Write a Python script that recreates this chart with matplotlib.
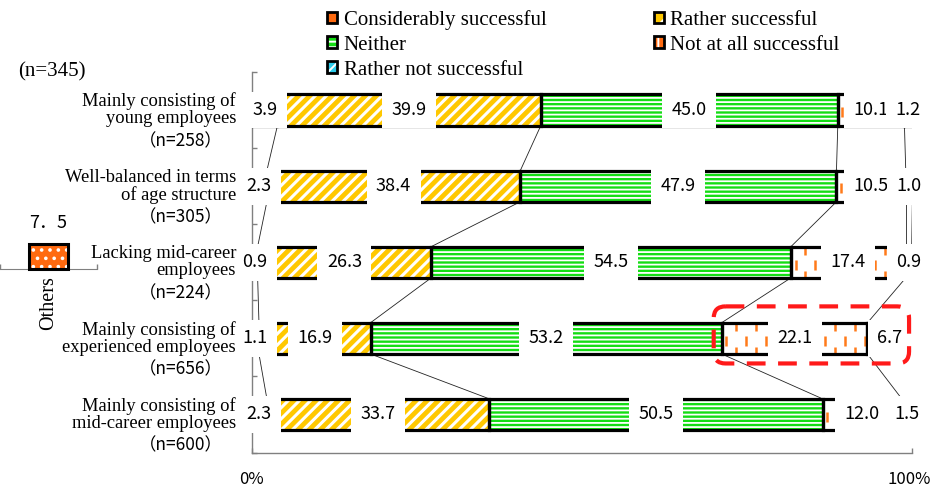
import numpy as np
import matplotlib
matplotlib.use('Agg')
import matplotlib.pyplot as plt
from matplotlib.patches import Patch, FancyBboxPatch
from matplotlib.transforms import ScaledTranslation

plt.rcParams['hatch.linewidth'] = 1.4

GOTICA = ['Noto Sans CJK JP', 'DejaVu Sans']
SERIF = ['Liberation Serif', 'DejaVu Serif']

# Datos (%)
grupos = ['Mainly consisting of\nyoung employees',
          'Well-balanced in terms\nof age structure',
          'Lacking mid-career\nemployees',
          'Mainly consisting of\nexperienced employees',
          'Mainly consisting of\nmid-career employees']
n_grupos = [258, 305, 224, 656, 600]
series = ['Considerably successful', 'Rather successful', 'Neither',
          'Rather not successful', 'Not at all successful']
considerably = [3.9, 2.3, 0.9, 1.1, 2.3]
rather = [39.9, 38.4, 26.3, 16.9, 33.7]
neither = [45.0, 47.9, 54.5, 53.2, 50.5]
rather_not = [10.1, 10.5, 17.4, 22.1, 12.0]
not_at_all = [1.2, 1.0, 0.9, 6.7, 1.5]

otros_nombre = 'Others'
otros_n = 345
otros_valor = 7.5

# Colores / tramas
NARANJA = '#FF6A10'
AMARILLO = '#FFC800'
VERDE = '#14DD14'
CIAN = '#2CCBEA'
GUION = '#FF7A1A'

W, H = 931, 495


def caja_px(x0, y0, x1, y1):
    return [x0 / W, 1 - y1 / H, (x1 - x0) / W, (y1 - y0) / H]


fig = plt.figure(figsize=(W / 100, H / 100), dpi=100)
ax = fig.add_axes(caja_px(251.7, 72, 911.7, 452.5))

valores = np.array([considerably, rather, neither, rather_not, not_at_all])
acum = np.cumsum(valores, axis=0)
izq = acum - valores
y = np.arange(len(grupos))
ALTO = 0.41

# (color, trama, grosor de trama)
estilos = [(NARANJA, '..', 1.4), (AMARILLO, '///', 2.2), (VERDE, '----', 1.3),
           ('white', None, 1.0), ('white', None, 1.0)]

for k, (color, trama, grosor) in enumerate(estilos):
    fondo = ax.barh(y, valores[k], left=izq[k], height=ALTO, color=color,
                    edgecolor='white', hatch=trama, linewidth=0, zorder=2)
    for p in fondo.patches:
        if hasattr(p, 'set_hatch_linewidth'):
            p.set_hatch_linewidth(grosor)
    if k >= 3:
        # guiones naranjas sobre fondo blanco
        for i, rect in enumerate(fondo.patches):
            xs = np.arange(izq[k][i] + 0.7, acum[k][i], 1.5)
            px_, py_ = [], []
            for j, xv in enumerate(xs):
                if j % 2 == 0:
                    px_.append(xv); py_.append(i + 0.03)
                else:
                    px_ += [xv, xv]; py_ += [i - 0.16, i + 0.18]
            sc = ax.scatter(px_, py_, marker='|', s=50, linewidths=1.8,
                            color=GUION, zorder=2.1)
            sc.set_clip_path(rect)
    ax.barh(y, valores[k], left=izq[k], height=ALTO, fill=False,
            edgecolor='black', linewidth=2.3, zorder=3)

# líneas de serie entre barras
for k in range(len(series)):
    for i in range(len(grupos) - 1):
        ax.plot([acum[k][i], acum[k][i + 1]], [i + ALTO / 2, i + 1 - ALTO / 2],
                color='#222222', lw=0.6, zorder=1.5)

# etiquetas de valor con fondo blanco
for k in range(len(series)):
    for i in range(len(grupos)):
        ax.text(izq[k][i] + valores[k][i] / 2, i, f'{valores[k][i]:.1f}',
                ha='center', va='center', fontsize=13, family=GOTICA,
                zorder=5, clip_on=False,
                bbox=dict(boxstyle='square,pad=0.52', fc='white', ec='none'))

# nombres de grupo y n
for i, (g, n) in enumerate(zip(grupos, n_grupos)):
    ax.annotate(g, (0, i), xycoords=('axes fraction', 'data'),
                xytext=(-11.3, 0), textcoords='offset points',
                ha='right', va='center', fontsize=13.3, family=SERIF,
                linespacing=1.0, zorder=7)
    ax.annotate(f'（n={n}）', (0, i), xycoords=('axes fraction', 'data'),
                xytext=(-51, -22.5), textcoords='offset points',
                ha='center', va='center', fontsize=12.5, family=GOTICA,
                zorder=7)

# recuadro rojo discontinuo en la fila de experienced employees
fila = 3
ppx = ax.bbox.width / 100
ppy = ax.bbox.height / 5
x0 = izq[3][fila] - 1.2
resalte = FancyBboxPatch((x0, fila - 0.42), 99.6 - x0, 0.75,
                         boxstyle='round,pad=0,rounding_size=1.8',
                         mutation_aspect=ppx / ppy, fill=False,
                         edgecolor='#FF1A1A', linewidth=3,
                         linestyle=(0, (4.5, 3)), zorder=6, clip_on=False)
ax.add_patch(resalte)

ax.set_xlim(0, 100)
ax.set_ylim(4.5, -0.5)
ax.set_yticks([])
ax.set_yticks(np.arange(-0.5, 5, 1), minor=True)
ax.set_xticks([0, 100], ['0%', '100%'])
for lab in ax.get_xticklabels():
    lab.set_fontfamily(GOTICA)
ax.tick_params(axis='y', which='minor', direction='in', length=3.6,
               width=1, color='#808080')
ax.tick_params(axis='x', direction='in', length=3.6, width=1,
               color='#808080', pad=13, labelsize=12)
# el "100%" se corre un poco para que no toque el borde
ultima = ax.get_xticklabels()[-1]
ultima.set_transform(ultima.get_transform()
                     + ScaledTranslation(-2 / 72, 0, fig.dpi_scale_trans))
for lado in ('top', 'right'):
    ax.spines[lado].set_visible(False)
for lado in ('left', 'bottom'):
    ax.spines[lado].set_color('#808080')
    ax.spines[lado].set_linewidth(1)

# barra pequeña "Others"
ax2 = fig.add_axes(caja_px(0, 239, 96.7, 269))
ax2.bar([0], [otros_valor], width=0.4, color=NARANJA, edgecolor='white',
        hatch='..', linewidth=0, zorder=2)
ax2.bar([0], [otros_valor], width=0.4, fill=False, edgecolor='black',
        linewidth=2.2, zorder=3, clip_on=False)
ax2.annotate(f'{otros_valor:.1f}'.replace('.', '．'), (0, otros_valor),
             xytext=(0, 15), textcoords='offset points', ha='center',
             va='center', fontsize=13, family=GOTICA)
ax2.set_xlim(-0.5, 0.5)
ax2.set_ylim(0, 9)
ax2.set_yticks([])
ax2.set_xticks([0], [otros_nombre])
ax2.set_xticks([-0.5, 0.5], minor=True)
for lab in ax2.get_xticklabels():
    lab.set_fontfamily(SERIF)
ax2.tick_params(axis='x', which='major', length=0, pad=5, labelsize=14.5,
                labelrotation=90)
ax2.tick_params(axis='x', which='minor', direction='in', length=3.6,
                width=1, color='#808080')
for lado in ('top', 'right', 'left'):
    ax2.spines[lado].set_visible(False)
ax2.spines['bottom'].set_color('#808080')
ax2.patch.set_alpha(0)

fig.text(52 / W, 1 - 72 / H, f'(n={otros_n})', ha='center', va='center',
         fontsize=15, family=SERIF)

# leyenda
def muestra(color, trama):
    return (Patch(facecolor=color, edgecolor='white', hatch=trama, linewidth=0),
            Patch(facecolor='none', edgecolor='black', linewidth=2))


muestras = {
    'Considerably successful': muestra(NARANJA, None),
    'Rather successful': muestra(AMARILLO, '//'),
    'Neither': muestra(VERDE, '---'),
    'Rather not successful': muestra(CIAN, '//'),
    'Not at all successful': muestra(NARANJA, '|'),
}
orden = [series[0], series[2], series[3], series[1], series[4]]
fig.legend([muestras[s] for s in orden], orden, ncol=2, loc='upper left',
           bbox_to_anchor=(327 / W, 1 - 10 / H), frameon=False, borderpad=0,
           borderaxespad=0, handlelength=0.5, handleheight=0.5,
           handletextpad=0.3, columnspacing=5.15, labelspacing=0.28,
           prop={'family': SERIF, 'size': 15})

fig.savefig('out.png', dpi=100)
